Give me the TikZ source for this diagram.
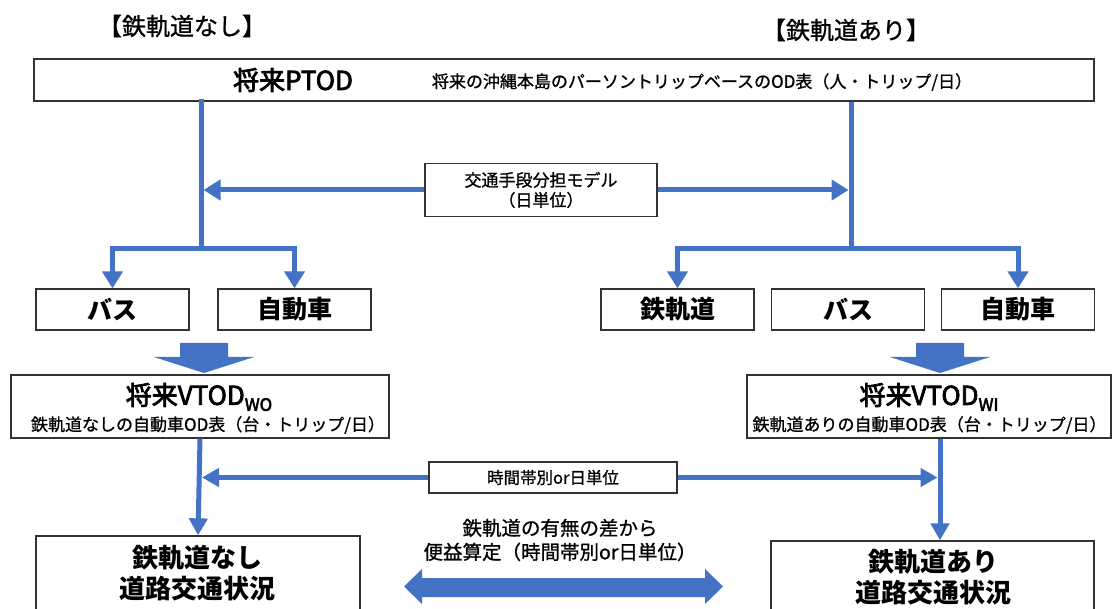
\documentclass[tikz,border=0pt]{standalone}
\usepackage{fontspec}
\setmainfont{Noto Sans CJK JP}
\newfontfamily\jpmed[FakeBold=3]{Noto Sans CJK JP}
\newfontfamily\jpsemi[FakeBold=1]{Noto Sans CJK JP}
\usetikzlibrary{arrows.meta}
\definecolor{ablue}{HTML}{4472C4}
\definecolor{bord}{HTML}{333333}
\newcommand\fsz[2]{\fontsize{#1pt}{#2pt}\selectfont}
\tikzset{
  box/.style={draw=bord, line width=1.3pt, fill=white, inner sep=0pt, align=center},
  rowbox/.style={box, minimum width=153pt, minimum height=41pt, font=\fsz{25}{28}\bfseries},
  bl/.style={draw=ablue, line width=5pt, line join=miter},
  tipbig/.style={-{Triangle[length=17pt,width=20pt]}},
  tipmid/.style={-{Triangle[length=17pt,width=18pt]}},
  txt/.style={inner sep=0pt, align=center},
  blockfill/.style={fill=ablue}
}
\begin{document}
\begin{tikzpicture}[x=1pt,y=-1pt]
\useasboundingbox (0,0) rectangle (1112,609);
\clip (0,0) rectangle (1112,609);
\fill[white] (0,0) rectangle (1112,609);

% headings
\node[txt, font=\jpsemi\fsz{24}{26}] (hnashi) at (182,26) {【鉄軌道なし】};
\node[txt, font=\jpsemi\fsz{24}{26}] (hari) at (846,30) {【鉄軌道あり】};

% PTOD box
\node[box, minimum width=1060pt, minimum height=42pt] (ptod) at (564,80) {};
\node[txt, font=\jpmed\fsz{26}{30}] (ptodt) at (293,80) {将来PTOD};
\node[txt, font=\jpsemi\fsz{17}{20}] (ptods) at (702,82) {将来の沖縄本島のパーソントリップベースのOD表（人・トリップ/日）};

% mode split box
\node[box, minimum width=232pt, minimum height=53pt, font=\jpsemi\fsz{17}{20}] (mode) at (541,190) {交通手段分担モデル\\（日単位）};

% row boxes
\node[rowbox] (bus1) at (112.5,309.5) {バス};
\node[rowbox] (car1) at (294.5,309.5) {自動車};
\node[rowbox] (rail) at (677.5,309.5) {鉄軌道};
\node[rowbox] (bus2) at (848,309.5) {バス};
\node[rowbox] (car2) at (1018,309.5) {自動車};

% trunk lines
\coordinate (L) at (201,249);
\coordinate (R) at (851,249);
\coordinate (Lm) at (203.5,190);
\coordinate (Rm) at (848.5,190);
\draw[bl] ([yshift=3pt]ptod.south -| L) -- (L);
\draw[bl] (ptod.south -| R) -- (R);
\draw[bl,tipbig] (mode.west) -- (Lm);
\draw[bl,tipbig] (mode.east) -- (Rm);
\draw[bl,tipbig] (L) -| (bus1.north);
\draw[bl,tipbig] (L) -| (car1.north);
\draw[bl,tipbig] (R) -| (rail.north);
\draw[bl,tipbig] (R) -| (car2.north);

% block arrows
\fill[blockfill] (180,343) -- (228,343) -- (228,357) -- (254,357) -- (204,373) -- (154,357) -- (180,357) -- cycle;
\fill[blockfill] (916,343) -- (964,343) -- (964,357) -- (990,357) -- (940,373) -- (890,357) -- (916,357) -- cycle;

% VTOD boxes
\node[box, minimum width=378pt, minimum height=63pt] (vwo) at (200,406.5) {};
\node[txt, font=\jpmed\fsz{26}{30}] (vwot) at (199,397) {将来VTOD\raisebox{-6pt}{\fsz{17}{18}WO}};
\node[txt, font=\jpsemi\fsz{17}{20}] (vwos) at (208,425) {鉄軌道なしの自動車OD表（台・トリップ/日）};

\node[box, minimum width=364pt, minimum height=63pt] (vwi) at (929,406.5) {};
\node[txt, font=\jpmed\fsz{26}{30}] (vwit) at (929,397) {将来VTOD\raisebox{-6pt}{\fsz{17}{18}WI}};
\node[txt, font=\jpsemi\fsz{17}{20}] (vwis) at (929.5,425) {鉄軌道ありの自動車OD表（台・トリップ/日）};

% lower result boxes
\node[box, minimum width=324pt, minimum height=89pt] (nashi) at (198,580.5) {};
\node[txt, font=\fsz{26}{31}\bfseries] (nashit) at (197,573) {鉄軌道なし\\道路交通状況};
\node[box, minimum width=323pt, minimum height=84pt] (ari) at (932.5,583) {};
\node[txt, font=\fsz{26}{31}\bfseries] (arit) at (933,577) {鉄軌道あり\\道路交通状況};

% time band box
\node[box, minimum width=248pt, minimum height=31pt, font=\jpsemi\fsz{16.5}{20}] (tband) at (553,477.5) {時間帯別or日単位};

% vertical arrows
\coordinate (rvx) at (940,0);
\draw[bl,tipmid] (vwo.south) -- (nashi.north);
\draw[bl,tipmid] (vwi.south -| rvx) -- (ari.north -| rvx);
\draw[bl,tipmid] (tband.west) -- (202,477.5);
\draw[bl,tipmid] (tband.east) -- (937.5,477.5);

% benefit text and double arrow
\node[txt, font=\jpsemi\fsz{19.5}{24}] (benefit) at (560,540) {鉄軌道の有無の差から\\便益算定（時間帯別or日単位）};
\fill[blockfill] (404,586.5) -- (422,569) -- (422,578) -- (705,578) -- (705,569) -- (723,586.5) -- (705,604) -- (705,597) -- (422,597) -- (422,604) -- cycle;
\end{tikzpicture}
\end{document}
